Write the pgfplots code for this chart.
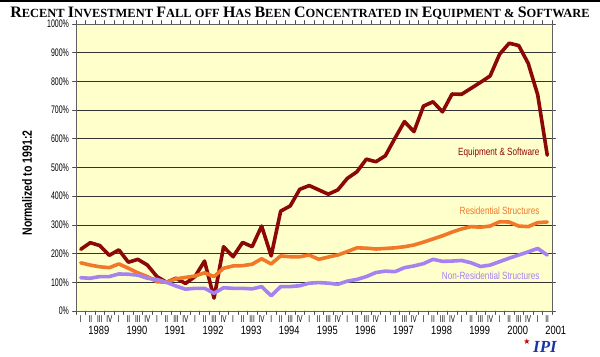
\documentclass[border=0pt]{standalone}
\usepackage{fontspec}
\usepackage{pgfplots}
\usepackage{pgfplotstable}
\pgfplotsset{compat=1.18}
\setmainfont{Liberation Sans}
\newfontfamily\narrowfont[FakeStretch=0.78]{Liberation Sans}
\newfontfamily\tickfont[FakeStretch=0.64]{Liberation Sans}
\newfontfamily\titlefont{Liberation Serif}
\newfontfamily\symfont{DejaVu Sans}
\definecolor{bgyellow}{RGB}{255,255,204}
\definecolor{eqcol}{RGB}{140,8,8}
\definecolor{rescol}{RGB}{240,120,40}
\definecolor{nrcol}{RGB}{165,130,240}
\definecolor{logoblue}{RGB}{25,55,160}
\newcommand\tc[2]{{\fontsize{16}{16}\selectfont #1}{\fontsize{12.5}{12.5}\selectfont #2}}
\newcommand\ts[1]{{\fontsize{12.5}{12.5}\selectfont #1}}

\pgfplotstableread{
q eq res nr
0 215 168 116
1 238 160 114
2 228 154 120
3 194 151 120
4 213 164 129
5 170 149 128
6 180 133 125
7 160 120 114
8 120 102 110
9 100 100 100
10 114 112 87
11 96 117 76
12 120 122 79
13 174 133 79
14 45 120 62
15 224 149 81
16 189 157 79
17 239 158 79
18 224 163 77
19 296 182 85
20 192 164 53
21 348 192 85
22 366 189 85
23 424 189 88
24 437 195 97
25 422 180 99
26 407 188 97
27 422 195 93
28 462 207 104
29 485 220 110
30 529 219 120
31 520 216 134
32 541 218 139
33 602 220 137
34 660 224 151
35 625 230 157
36 714 240 165
37 729 251 180
38 694 262 173
39 756 275 174
40 755 286 176
41 776 294 168
42 797 292 155
43 819 296 160
44 895 311 172
45 933 310 184
46 925 296 195
47 863 294 206
48 753 308 218
49 543 310 195
}\datatable

\begin{document}
\begin{tikzpicture}
\fill[black] (0,354.5bp) rectangle (600bp,357bp);
\node[font=\titlefont\bfseries\fontsize{13}{13}\selectfont, inner sep=0] at (300bp,344bp)
 {\tc{R}{ECENT} \tc{I}{NVESTMENT} \tc{F}{ALL} \ts{OFF} \tc{H}{AS} \tc{B}{EEN} \tc{C}{ONCENTRATED} \ts{IN} \tc{E}{QUIPMENT} \ts{\&} \tc{S}{OFTWARE}};
\node[rotate=90, font=\narrowfont\bfseries\fontsize{13.5}{13.5}\selectfont, inner sep=0] at (27bp,174bp) {Normalized to 1991:2};
\begin{axis}[
 at={(76bp,46bp)}, anchor=south west,
 scale only axis, width=476bp, height=287bp,
 xmin=-0.5, xmax=49.5, ymin=0, ymax=1000,
 clip=false,
 axis background/.style={fill=bgyellow},
 axis line style={draw=gray!75!black, line width=0.9pt},
 ytick={0,100,200,300,400,500,600,700,800,900,1000},
 yticklabels={0\%,100\%,200\%,300\%,400\%,500\%,600\%,700\%,800\%,900\%,1000\%},
 yticklabel style={font=\tickfont\fontsize{11}{11}\selectfont},
 ymajorgrids, grid style={black!80, line width=0.7pt},
 tick align=outside, major tick length=3.5bp,
 tick style={draw=gray!60!black, line width=0.6pt},
 xtick={-0.5,0.5,...,49.5},
 xticklabels={I,II,III,IV,I,II,III,IV,I,II,III,IV,I,II,III,IV,I,II,III,IV,I,II,III,IV,I,II,III,IV,I,II,III,IV,I,II,III,IV,I,II,III,IV,I,II,III,IV,I,II,III,IV,I,II},
 xticklabel style={font=\tickfont\fontsize{10}{10}\selectfont, xshift=4.76bp, inner sep=1pt},
 line join=round, line cap=round,
]
\addplot[eqcol, line width=3.6bp] table[x=q, y=eq] {\datatable};
\addplot[rescol, line width=3.6bp] table[x=q, y=res] {\datatable};
\addplot[nrcol, line width=3.6bp] table[x=q, y=nr] {\datatable};
\node[anchor=east, text=eqcol, font=\narrowfont\fontsize{10.5}{10.5}\selectfont, inner sep=0] at (axis cs:48.2,550) {Equipment \& Software};
\node[anchor=east, text=rescol, font=\narrowfont\fontsize{10.5}{10.5}\selectfont, inner sep=0] at (axis cs:48.2,348) {Residential Structures};
\node[anchor=east, text=nrcol, font=\narrowfont\fontsize{10.5}{10.5}\selectfont, inner sep=0] at (axis cs:48.2,122) {Non-Residential Structures};
\foreach \yr/\xp in {1989/1.9,1990/5.9,1991/9.9,1992/13.9,1993/17.9,1994/21.9,1995/25.9,1996/29.9,1997/33.9,1998/37.9,1999/41.9,2000/45.9,2001/49.9}{
 \edef\tmp{\noexpand\node[anchor=north, inner sep=0, font=\noexpand\narrowfont\noexpand\fontsize{12}{12}\noexpand\selectfont] at (axis cs:\xp,0) [yshift=-15bp] {\yr};}
 \tmp
}
\end{axis}
\node[font=\titlefont\bfseries\itshape\fontsize{17}{17}\selectfont, text=logoblue, inner sep=0] at (545bp,10bp) {IPI};
\node[font=\symfont\fontsize{8}{8}\selectfont, text=red!75!black, inner sep=0] at (527bp,15bp) {★};
\pgfresetboundingbox
\useasboundingbox (0,0) rectangle (600bp,357bp);
\end{tikzpicture}
\end{document}
